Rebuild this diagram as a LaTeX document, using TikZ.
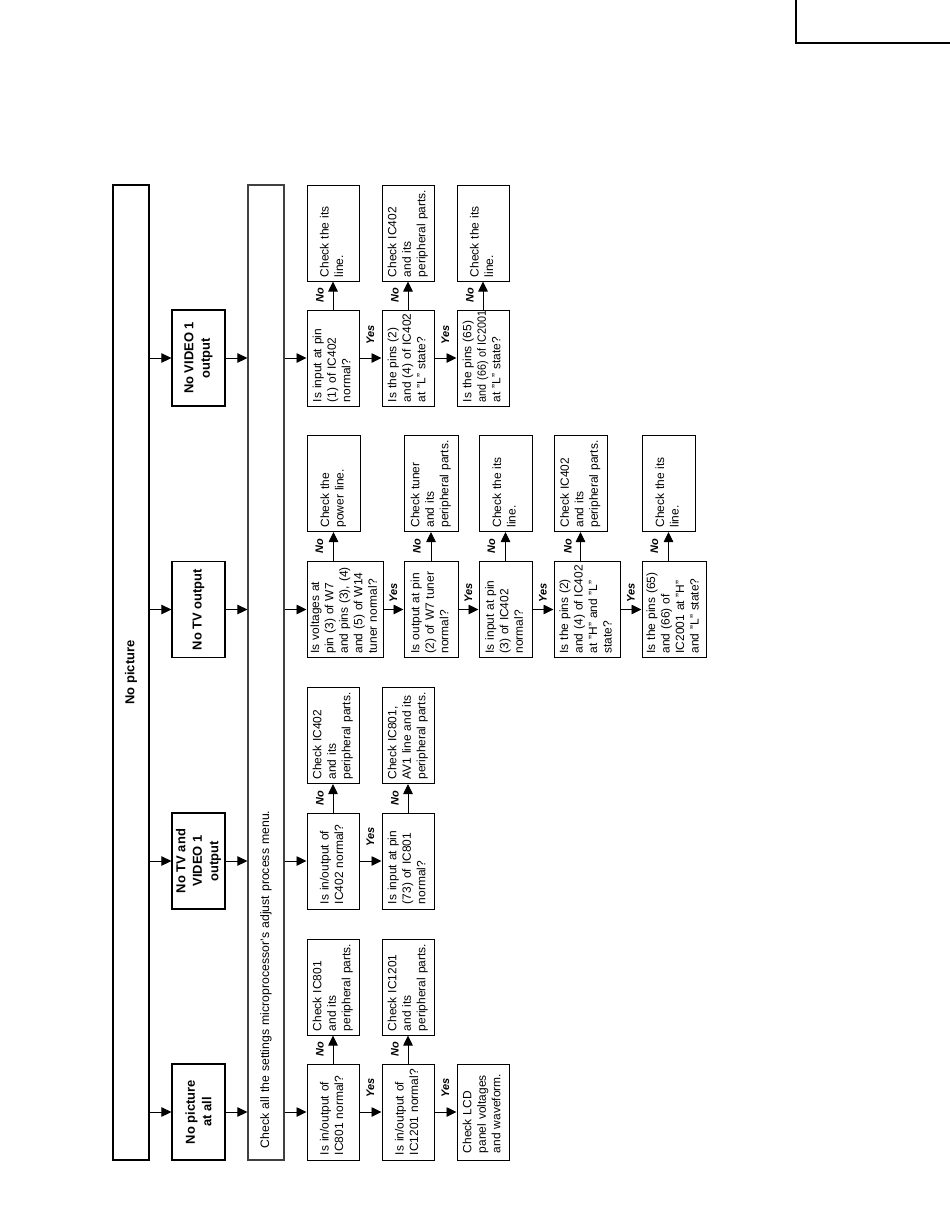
\documentclass[tikz,border=0pt]{standalone}
\usepackage{graphicx}
\usepackage{fontspec}
\setmainfont{Liberation Sans}
\usetikzlibrary{arrows.meta}
\newcommand\tl[1]{\begin{tabular}{@{}l@{}}#1\end{tabular}}
\newcommand\sm[1]{\scalebox{0.9}[1]{#1}}
\begin{document}
\begin{tikzpicture}[x=1bp,y=-1bp,
  tbox/.style={draw, line width=1bp, rotate=90, minimum width=96bp, minimum height=#1,
    text width=88bp, inner xsep=4bp, inner ysep=0pt, align=left,
    font=\fontsize{12}{14.5}\selectfont},
  qbox/.style={tbox=#1, text width=86bp, inner xsep=5bp},
  bbox/.style={draw, line width=1.2bp, rotate=90, minimum width=96bp, minimum height=53bp,
    inner sep=0pt, align=center, font=\bfseries\fontsize{13}{16.5}\selectfont},
  tall/.style={draw, line width=1.2bp, rotate=90, minimum width=975bp, minimum height=36bp},
  arr/.style={line width=0.9bp, -{Triangle[length=10bp,width=9.5bp]}},
  lab/.style={rotate=90, inner sep=0pt, font=\bfseries\itshape\fontsize{11}{12}\selectfont}]
\useasboundingbox (0,0) rectangle (950,1229);
\draw[line width=1.3bp] (796,0) -- (796,43) -- (950,43);

% main columns
\node[tall, inner sep=0pt, font=\bfseries\fontsize{13}{16}\selectfont] (np) at (131,672.5) {No picture};
\node[tall, draw=black!75, text width=951bp, inner xsep=12bp, inner ysep=0pt, align=left,
  font=\fontsize{12.3}{14}\selectfont] (ck) at (266,672.5)
  {Check all the settings microprocessor's adjust process menu.};

% level 2
\node[bbox] (a0) at (198.5,1112) {No picture\\at all};
\node[bbox] (b0) at (198.5,861) {No TV and\\VIDEO 1\\output};
\node[bbox] (c0) at (198.5,609.5) {No TV output};
\node[bbox] (d0) at (198.5,358) {No VIDEO 1\\output};

% column A
\node[qbox=52bp] (a1) at (333,1112) {\tl{Is in/output of\\IC801 normal?}};
\node[tbox=52bp] (a1n) at (333,987) {\tl{Check IC801\\and its\\peripheral parts.}};
\node[qbox=52bp] (a2) at (408,1112) {\tl{Is in/output of\\IC1201 normal?}};
\node[tbox=52bp] (a2n) at (408,987) {\tl{Check IC1201\\and its\\peripheral parts.}};
\node[tbox=52bp, inner xsep=7bp, text width=82bp] (a3) at (483,1112) {\tl{Check LCD\\panel voltages\\and waveform.}};

% column B
\node[qbox=52bp] (b1) at (333,861) {\tl{Is in/output of\\IC402 normal?}};
\node[tbox=52bp] (b1n) at (333,735.5) {\tl{Check IC402\\and its\\peripheral parts.}};
\node[qbox=52bp] (b2) at (408,861) {\tl{Is input at pin\\(73) of IC801\\normal?}};
\node[tbox=52bp] (b2n) at (408,735.5) {\tl{Check IC801,\\AV1 line and its\\peripheral parts.}};

% column C
\node[tbox=76bp] (c1) at (345,609.5) {\tl{Is voltages at\\pin (3) of W7\\and pins (3), (4)\\and (5) of W14\\tuner normal?}};
\node[tbox=53bp] (c1n) at (333.5,483.5) {\tl{Check the\\power line.}};
\node[tbox=54bp] (c2) at (431,609.5) {\tl{Is output at pin\\(2) of W7 tuner\\normal?}};
\node[tbox=54bp] (c2n) at (431,483.5) {\tl{Check tuner\\and its\\peripheral parts.}};
\node[tbox=53bp] (c3) at (505.5,609.5) {\tl{Is input at pin\\(3) of IC402\\normal?}};
\node[tbox=53bp] (c3n) at (505.5,483.5) {\tl{Check the its\\line.}};
\node[tbox=66bp] (c4) at (587,609.5) {\tl{Is the pins (2)\\and (4) of IC402\\at "H" and "L"\\state?}};
\node[tbox=53bp] (c4n) at (580.5,483.5) {\tl{Check IC402\\and its\\peripheral parts.}};
\node[tbox=64bp] (c5) at (674,609.5) {\tl{Is the pins (65)\\and (66) of\\IC2001 at "H"\\and "L" state?}};
\node[tbox=53bp] (c5n) at (668.5,483.5) {\tl{Check the its\\line.}};

% column D
\node[tbox=52bp] (d1) at (333,358) {\tl{Is input at pin\\(1) of IC402\\normal?}};
\node[tbox=52bp] (d1n) at (333,233) {\tl{Check the its\\line.}};
\node[tbox=52bp] (d2) at (408,358) {\tl{Is the pins (2)\\and (4) of IC402\\at "L" state?}};
\node[tbox=52bp] (d2n) at (408,233) {\tl{Check IC402\\and its\\peripheral parts.}};
\node[tbox=52bp] (d3) at (483,358) {\tl{Is the pins (65)\\\sm{and (66) of IC2001}\\at "L" state?}};
\node[tbox=52bp] (d3n) at (483,233) {\tl{Check the its\\line.}};

% arrows
\foreach \n in {a0,b0,c0,d0} {
  \draw[arr] (\n -| np.south) -- (\n.north);
  \draw[arr] (\n.south) -- (\n -| ck.north);
}
\foreach \n in {a1,b1,c1,d1} \draw[arr] (\n -| ck.south) -- (\n.north);
\foreach \p/\q in {a1/a2,a2/a3,b1/b2,c1/c2,c2/c3,c3/c4,c4/c5,d1/d2,d2/d3}
  \draw[arr] (\p.south) -- (\q.north);
\foreach \p in {a1,a2,b1,b2,c1,c2,c3,c4,c5,d1,d2,d3}
  \draw[arr] (\p.east -| \p n) -- (\p n.west);

% Yes labels
\node[lab] (ya1) at (370.5,1088) {Yes};
\node[lab] (ya2) at (445.5,1088) {Yes};
\node[lab] (yb1) at (370.5,837) {Yes};
\node[lab] (yc1) at (393.5,593) {Yes};
\node[lab] (yc2) at (468.5,593) {Yes};
\node[lab] (yc3) at (543,593) {Yes};
\node[lab] (yc4) at (631,593) {Yes};
\node[lab] (yd1) at (370.5,335) {Yes};
\node[lab] (yd2) at (445.5,335) {Yes};

% No labels
\node[lab] (na1) at (320,1049.5) {No};
\node[lab] (na2) at (395,1049.5) {No};
\node[lab] (nb1) at (320,798) {No};
\node[lab] (nb2) at (395,798) {No};
\node[lab] (nc1) at (319.5,546.5) {No};
\node[lab] (nc2) at (417,546.5) {No};
\node[lab] (nc3) at (491.5,546.5) {No};
\node[lab] (nc4) at (568,546.5) {No};
\node[lab] (nc5) at (654.5,546.5) {No};
\node[lab] (nd1) at (320,295.5) {No};
\node[lab] (nd2) at (395,295.5) {No};
\node[lab] (nd3) at (470,295.5) {No};
\end{tikzpicture}
\end{document}
